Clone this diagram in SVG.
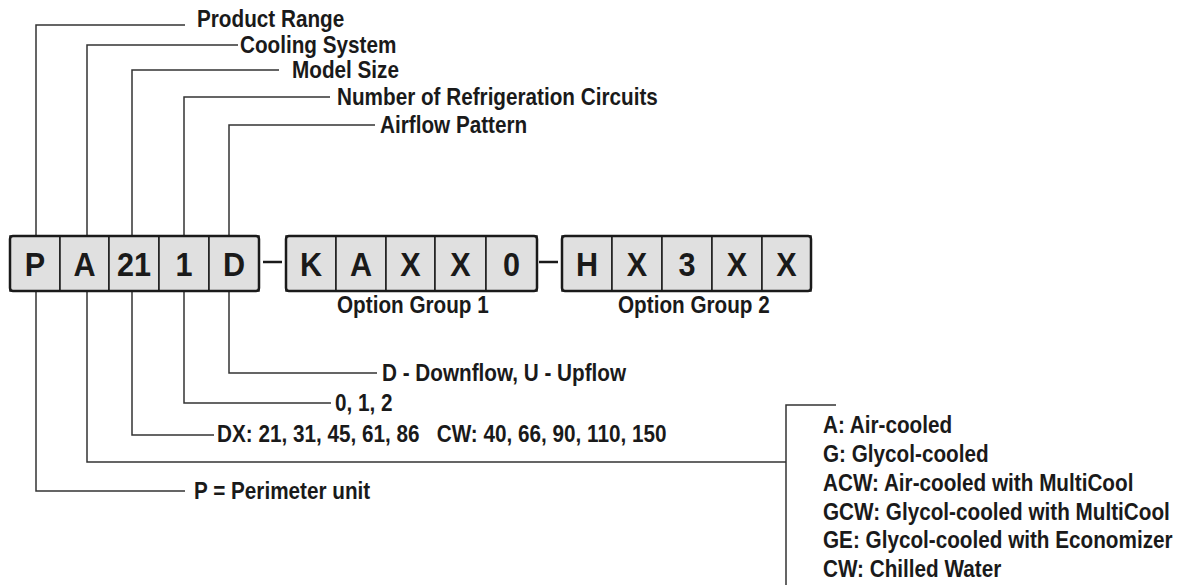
<svg xmlns="http://www.w3.org/2000/svg" width="1190" height="585" viewBox="0 0 1190 585">
<style>
.lbl{font-family:"Liberation Sans",Arial,sans-serif;font-weight:bold;font-size:23px;fill:#1a1a1a}
.big{font-family:"Liberation Sans",Arial,sans-serif;font-weight:bold;font-size:34px;fill:#1a1a1a;text-anchor:middle}
.ln{fill:none;stroke:#333;stroke-width:1.5}
.box{fill:#e0e0e0;stroke:#1a1a1a;stroke-width:1.5}
.frame{fill:none;stroke:#1a1a1a;stroke-width:2.5}
.dash{stroke:#1a1a1a;stroke-width:2.5}
</style>
<rect width="1190" height="585" fill="#fff"/>
<g id="connectors">
<path class="ln" d="M36,236 V25 H185"/>
<path class="ln" d="M87,236 V45 H238"/>
<path class="ln" d="M132,236 V70 H279"/>
<path class="ln" d="M184,236 V97 H330"/>
<path class="ln" d="M229,236 V125 H375"/>
<path class="ln" d="M229,291 V373 H377"/>
<path class="ln" d="M184,291 V403 H331"/>
<path class="ln" d="M132,291 V435 H214"/>
<path class="ln" d="M87,291 V462 H786"/>
<path class="ln" d="M36,291 V491 H185"/>
<path class="ln" d="M836,405 H786 V585"/>
<line class="dash" x1="263" y1="262" x2="282" y2="262"/>
<line class="dash" x1="539" y1="262" x2="558" y2="262"/>
</g>
<g id="group-model">
<g id="box-P"><rect class="box" x="10" y="236" width="50" height="55"/><text class="big" transform="matrix(0.9 0 0 1 35 276)">P</text></g>
<g id="box-A"><rect class="box" x="60" y="236" width="49" height="55"/><text class="big" transform="matrix(0.9 0 0 1 84.5 276)">A</text></g>
<g id="box-21"><rect class="box" x="109" y="236" width="50" height="55"/><text class="big" transform="matrix(0.9 0 0 1 134 276)">21</text></g>
<g id="box-1"><rect class="box" x="159" y="236" width="50" height="55"/><text class="big" transform="matrix(0.9 0 0 1 184 276)">1</text></g>
<g id="box-D"><rect class="box" x="209" y="236" width="50" height="55"/><text class="big" transform="matrix(0.9 0 0 1 234 276)">D</text></g>
<rect class="frame" x="10" y="236" width="249" height="55" rx="3"/>
</g>
<g id="group-option1">
<g id="box-K"><rect class="box" x="286" y="236" width="50" height="55"/><text class="big" transform="matrix(0.9 0 0 1 311 276)">K</text></g>
<g id="box-A2"><rect class="box" x="336" y="236" width="50" height="55"/><text class="big" transform="matrix(0.9 0 0 1 361 276)">A</text></g>
<g id="box-X1"><rect class="box" x="386" y="236" width="49" height="55"/><text class="big" transform="matrix(0.9 0 0 1 410.5 276)">X</text></g>
<g id="box-X2"><rect class="box" x="435" y="236" width="51" height="55"/><text class="big" transform="matrix(0.9 0 0 1 460.5 276)">X</text></g>
<g id="box-0"><rect class="box" x="486" y="236" width="51" height="55"/><text class="big" transform="matrix(0.9 0 0 1 511.5 276)">0</text></g>
<rect class="frame" x="286" y="236" width="251" height="55" rx="3"/>
<text class="lbl" transform="matrix(0.9 0 0 1 337 313)">Option Group 1</text>
</g>
<g id="group-option2">
<g id="box-H"><rect class="box" x="562" y="236" width="50" height="55"/><text class="big" transform="matrix(0.9 0 0 1 587 276)">H</text></g>
<g id="box-X3"><rect class="box" x="612" y="236" width="50" height="55"/><text class="big" transform="matrix(0.9 0 0 1 637 276)">X</text></g>
<g id="box-3"><rect class="box" x="662" y="236" width="50" height="55"/><text class="big" transform="matrix(0.9 0 0 1 687 276)">3</text></g>
<g id="box-X4"><rect class="box" x="712" y="236" width="50" height="55"/><text class="big" transform="matrix(0.9 0 0 1 737 276)">X</text></g>
<g id="box-X5"><rect class="box" x="762" y="236" width="49" height="55"/><text class="big" transform="matrix(0.9 0 0 1 786.5 276)">X</text></g>
<rect class="frame" x="562" y="236" width="249" height="55" rx="3"/>
<text class="lbl" transform="matrix(0.9 0 0 1 618 313)">Option Group 2</text>
</g>
<g id="label-product-range"><text class="lbl" transform="matrix(0.9 0 0 1 197 27)">Product Range</text></g>
<g id="label-cooling-system"><text class="lbl" transform="matrix(0.9 0 0 1 240 53)">Cooling System</text></g>
<g id="label-model-size"><text class="lbl" transform="matrix(0.9 0 0 1 292 78)">Model Size</text></g>
<g id="label-circuits"><text class="lbl" transform="matrix(0.9 0 0 1 337 105)">Number of Refrigeration Circuits</text></g>
<g id="label-airflow"><text class="lbl" transform="matrix(0.9 0 0 1 380 133)">Airflow Pattern</text></g>
<g id="value-airflow"><text class="lbl" transform="matrix(0.9 0 0 1 382 381)">D - Downflow, U - Upflow</text></g>
<g id="value-circuits"><text class="lbl" transform="matrix(0.9 0 0 1 335 411)">0, 1, 2</text></g>
<g id="value-model-size"><text class="lbl" transform="matrix(0.9 0 0 1 217 442)" xml:space="preserve">DX: 21, 31, 45, 61, 86   CW: 40, 66, 90, 110, 150</text></g>
<g id="value-product-range"><text class="lbl" transform="matrix(0.9 0 0 1 194 499)">P = Perimeter unit</text></g>
<g id="value-cooling-system">
<text class="lbl" transform="matrix(0.9 0 0 1 823 433)">A: Air-cooled</text>
<text class="lbl" transform="matrix(0.9 0 0 1 823 462)">G: Glycol-cooled</text>
<text class="lbl" transform="matrix(0.9 0 0 1 823 491)">ACW: Air-cooled with MultiCool</text>
<text class="lbl" transform="matrix(0.9 0 0 1 823 519.5)">GCW: Glycol-cooled with MultiCool</text>
<text class="lbl" transform="matrix(0.9 0 0 1 823 548)">GE: Glycol-cooled with Economizer</text>
<text class="lbl" transform="matrix(0.9 0 0 1 823 576.5)">CW: Chilled Water</text>
</g>
</svg>
